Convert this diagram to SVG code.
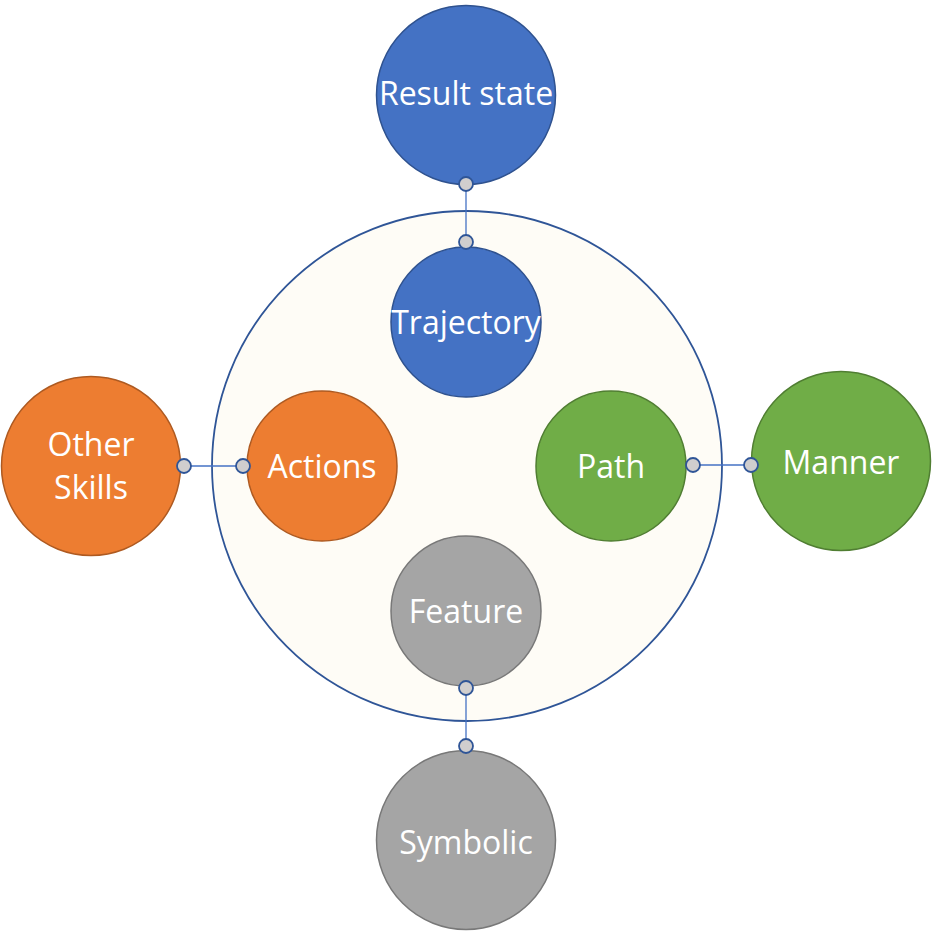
<svg xmlns="http://www.w3.org/2000/svg" width="932" height="932" viewBox="0 0 932 932">
  <style>
    .blue { fill: #4472c4; stroke: #2f528f; stroke-width: 1.5; }
    .orange { fill: #ed7d31; stroke: #ae5a21; stroke-width: 1.5; }
    .green { fill: #70ad47; stroke: #507e32; stroke-width: 1.5; }
    .gray { fill: #a5a5a5; stroke: #787878; stroke-width: 1.5; }
    .label { font-family: "Open Sans", "Liberation Sans", sans-serif; font-size: 32px; fill: #ffffff; text-anchor: middle; }
    .link { stroke: #4472c4; stroke-width: 1.3; fill: none; }
    .port { fill: #d0cece; stroke: #2f5597; stroke-width: 1.8; }
  </style>
  <rect width="932" height="932" fill="#ffffff"/>

  <!-- outer ring -->
  <g id="core">
    <circle cx="467" cy="466" r="255" fill="#fefcf6" stroke="#2f5597" stroke-width="1.8"/>
  </g>

  <!-- connectors between inner and outer nodes -->
  <g id="connectors">
    <line class="link" x1="466" y1="184" x2="466" y2="242"/>
    <line class="link" x1="184" y1="466" x2="243" y2="466"/>
    <line class="link" x1="693" y1="465" x2="751" y2="465"/>
    <line class="link" x1="466" y1="688" x2="466" y2="746"/>
  </g>

  <g id="result-state">
    <circle class="blue" cx="466" cy="95" r="89.5"/>
    <text class="label" x="466" y="105">Result state</text>
  </g>
  <g id="trajectory">
    <circle class="blue" cx="466" cy="322" r="75"/>
    <text class="label" x="466" y="334">Trajectory</text>
  </g>
  <g id="actions">
    <circle class="orange" cx="322" cy="466" r="75"/>
    <text class="label" x="322" y="478">Actions</text>
  </g>
  <g id="path">
    <circle class="green" cx="611" cy="466" r="75"/>
    <text class="label" x="611" y="478">Path</text>
  </g>
  <g id="feature">
    <circle class="gray" cx="466" cy="611" r="75"/>
    <text class="label" x="466" y="623">Feature</text>
  </g>
  <g id="other-skills">
    <circle class="orange" cx="91" cy="466" r="89.5"/>
    <text class="label" x="91" y="456">Other</text>
    <text class="label" x="91" y="499">Skills</text>
  </g>
  <g id="manner">
    <circle class="green" cx="841" cy="461" r="89.5"/>
    <text class="label" x="841" y="474">Manner</text>
  </g>
  <g id="symbolic">
    <circle class="gray" cx="466" cy="840" r="89.5"/>
    <text class="label" x="466" y="854">Symbolic</text>
  </g>

  <!-- connection ports -->
  <g id="ports">
    <circle class="port" cx="466" cy="184" r="7"/>
    <circle class="port" cx="466" cy="242" r="7"/>
    <circle class="port" cx="184" cy="466" r="7"/>
    <circle class="port" cx="243" cy="466" r="7"/>
    <circle class="port" cx="693" cy="465" r="7"/>
    <circle class="port" cx="751" cy="465" r="7"/>
    <circle class="port" cx="466" cy="688" r="7"/>
    <circle class="port" cx="466" cy="746" r="7"/>
  </g>
</svg>
